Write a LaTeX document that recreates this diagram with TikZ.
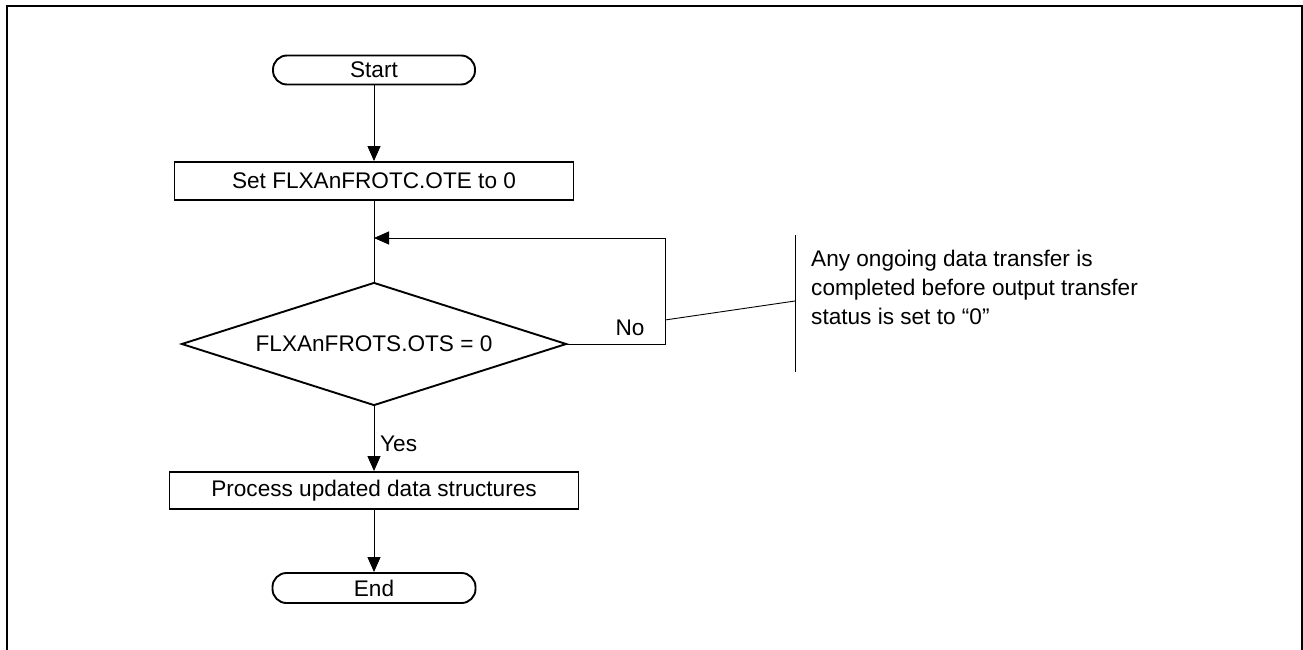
\documentclass[tikz,border=0pt]{standalone}
\usepackage{fontspec}
\setmainfont{Liberation Sans}
\usetikzlibrary{arrows.meta,shapes.geometric}
\tikzset{
  termbox/.style={draw,line width=1.9pt,rounded corners=14pt,minimum width=202pt,minimum height=29pt,inner sep=0pt},
  procbox/.style={draw,line width=1.9pt,minimum height=38pt,inner sep=0pt},
  decbox/.style={draw,diamond,aspect=3.13,line width=1.9pt,minimum width=385pt,minimum height=123pt,inner sep=0pt},
  flow/.style={line width=.9pt,-{Triangle[length=15pt,width=13pt]}},
  link/.style={line width=.9pt}
}
\begin{document}
\begin{tikzpicture}[x=1pt,y=-1pt,font=\fontsize{22.6}{29}\selectfont]
\useasboundingbox (0,0) rectangle (1303,650);
\draw[line width=1.9pt] (7,650)--(7,6)--(1302,6)--(1302,650);
\node[termbox] (start) at (374,70) {Start};
\node[procbox,minimum width=399pt] (setote) at (374,181) {Set FLXAnFROTC.OTE to 0};
\node[decbox] (chkots) at (374,344) {FLXAnFROTS.OTS = 0};
\node[procbox,minimum width=409pt,minimum height=37pt] (procdata) at (374,490.5) {Process updated data structures};
\node[termbox,minimum width=203pt,minimum height=30pt] (finish) at (374,588) {End};
\coordinate (loopin) at (374,238);
\coordinate (loopturn) at (665,344);
\draw[flow] (start)--(setote);
\draw[link] (setote)--(chkots);
\draw[flow] (chkots.east)--(loopturn)|-(loopin);
\draw[flow] (chkots)--(procdata);
\draw[flow] (procdata)--(finish);
\node[anchor=base] (nolbl) at (630,335) {No};
\node[anchor=base west,inner sep=0pt] (yeslbl) at (380,451) {Yes};
% note on the retry loop
\coordinate (bartop) at (795,235);
\coordinate (barbot) at (795,372);
\coordinate (bartie) at (795,301);
\coordinate (looptie) at (665,320);
\draw[link] (bartop)--(barbot);
\draw[link] (looptie)--(bartie);
\node[anchor=north west,align=left,inner sep=0pt] (note) at (811,250)
  {Any ongoing data transfer is\\completed before output transfer\\status is set to “0”};
\end{tikzpicture}
\end{document}
